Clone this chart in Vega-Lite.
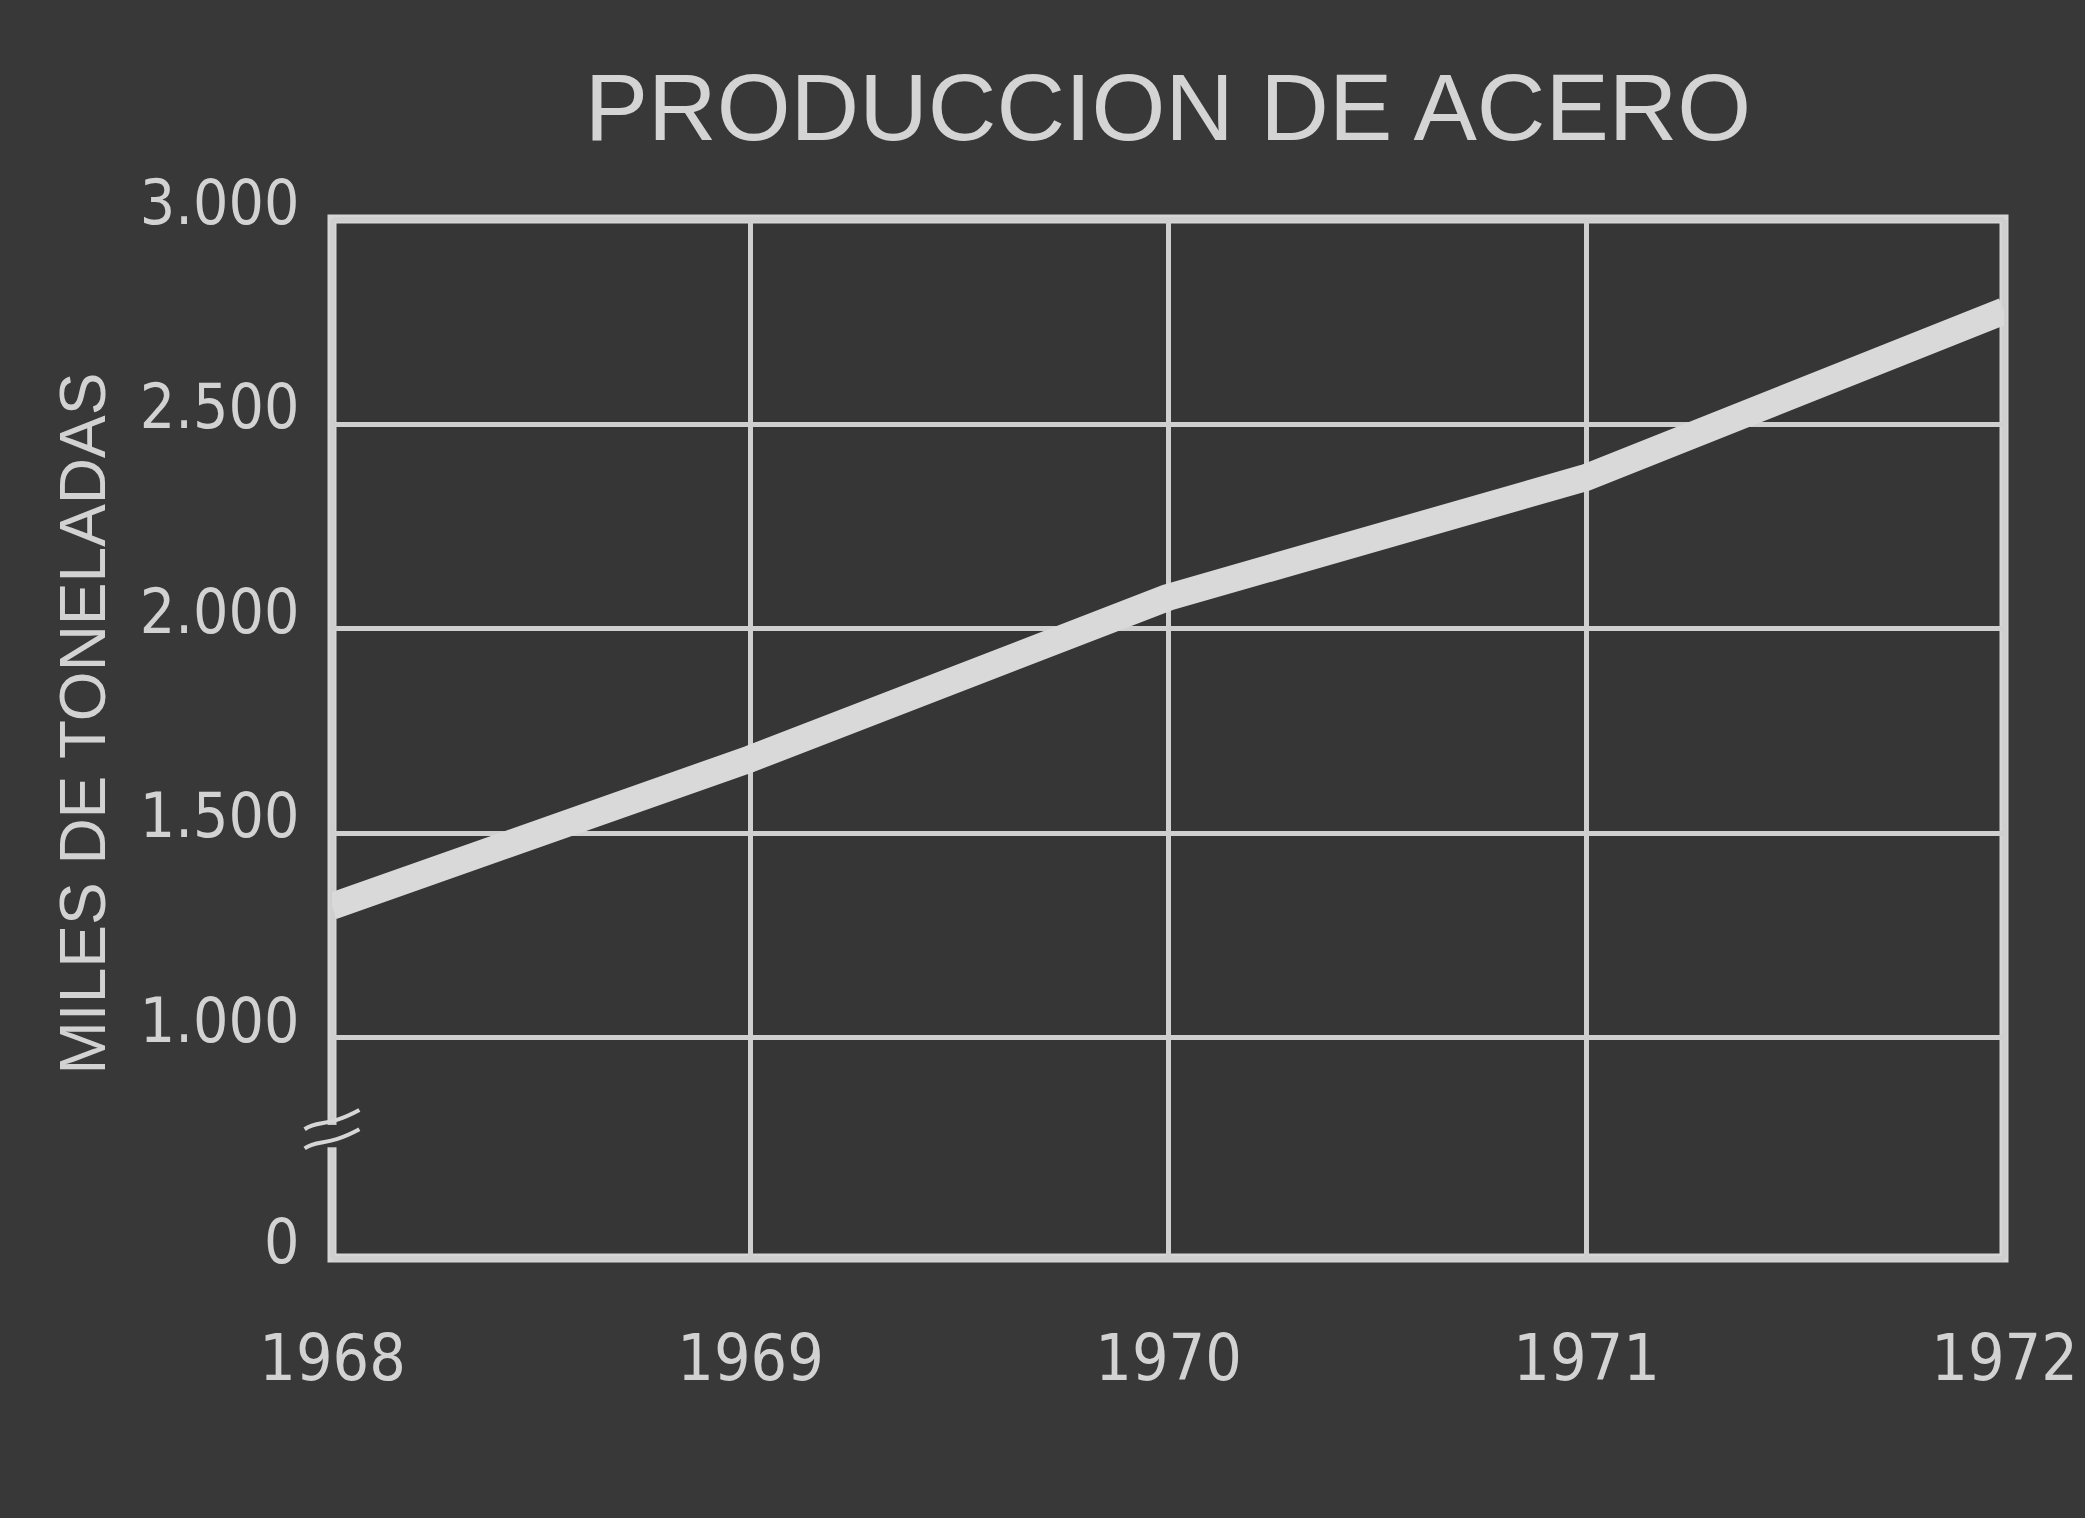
{
  "$schema": "https://vega.github.io/schema/vega-lite/v6.json",
  "width": 1672,
  "height": 1039,
  "autosize": {"type": "none"},
  "padding": {"left": 332, "top": 219, "right": 81, "bottom": 260},
  "background": "#383838",
  "config": {
    "view": {"stroke": "#d6d6d6", "strokeWidth": 9, "fill": "#363636"},
    "axis": {
      "domain": false,
      "ticks": false,
      "tickSize": 0,
      "grid": true,
      "gridColor": "#cfcfcf",
      "gridWidth": 5,
      "gridOpacity": 1,
      "labelColor": "#d2d2d2",
      "titleColor": "#d2d2d2"
    }
  },
  "title": {
    "text": "PRODUCCION DE ACERO",
    "font": "Liberation Sans",
    "fontSize": 95,
    "fontWeight": "normal",
    "color": "#d4d4d4",
    "anchor": "middle",
    "frame": "group",
    "baseline": "alphabetic",
    "offset": -62
  },
  "datasets": {
    "steel": [
      {"year": 1968, "value": 1320},
      {"year": 1969, "value": 1680},
      {"year": 1970, "value": 2075},
      {"year": 1971, "value": 2368},
      {"year": 1972, "value": 2775}
    ],
    "brk": [
      {"year": 1968, "value": 758}
    ]
  },
  "encoding": {
    "x": {
      "field": "year",
      "type": "quantitative",
      "scale": {"domain": [1968, 1972], "nice": false, "zero": false},
      "axis": {
        "values": [1968, 1969, 1970, 1971, 1972],
        "format": "d",
        "title": null,
        "labelFlush": false,
        "labelFont": "'DejaVu Sans Condensed', 'Liberation Sans', sans-serif",
        "labelFontSize": 64,
        "labelBaseline": "alphabetic",
        "labelPadding": 121
      }
    },
    "y": {
      "field": "value",
      "type": "quantitative",
      "scale": {"domain": [460, 3000], "nice": false, "zero": false},
      "axis": {
        "values": [460, 1000, 1500, 2000, 2500, 3000],
        "labelExpr": "datum.value < 900 ? '0' : replace(format(datum.value, ','), ',', '.')",
        "labelFlush": false,
        "labelFont": "'DejaVu Sans Condensed', 'Liberation Sans', sans-serif",
        "labelFontSize": 62,
        "labelBaseline": "middle",
        "labelOffset": -15,
        "labelPadding": 33,
        "title": "MILES DE TONELADAS",
        "titleFont": "Liberation Sans",
        "titleFontSize": 64,
        "titleFontWeight": "normal",
        "titleX": -247,
        "titleY": 504,
        "titleAngle": -90,
        "titleAlign": "center",
        "titleBaseline": "middle"
      }
    }
  },
  "layer": [
    {
      "data": {"name": "steel"},
      "mark": {"type": "line", "color": "#d9d9d9", "strokeWidth": 27, "strokeJoin": "round", "strokeCap": "butt", "clip": true}
    },
    {
      "data": {"name": "brk"},
      "mark": {"type": "point", "shape": "square", "filled": true, "color": "#363636", "opacity": 1, "size": 500}
    },
    {
      "data": {"name": "brk"},
      "mark": {"type": "point", "shape": "M-1,-0.25C-0.5,-0.6,-0.2,-0.3,1,-0.95M-1,0.45C-0.5,0.1,-0.2,0.4,1,-0.25", "filled": false, "color": "#d6d6d6", "opacity": 1, "strokeWidth": 4, "size": 3000}
    }
  ]
}
